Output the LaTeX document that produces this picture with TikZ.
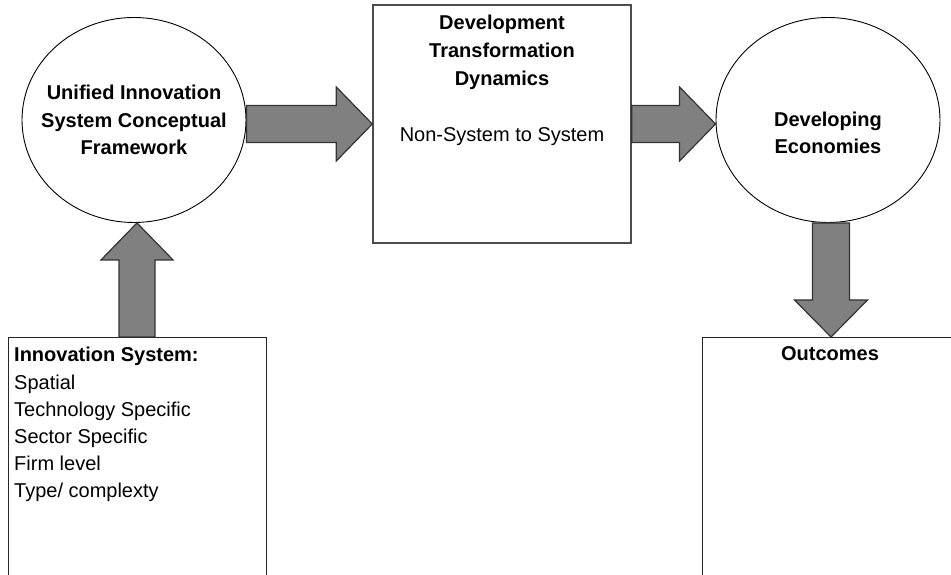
\documentclass[tikz,border=0pt]{standalone}
\usepackage{fontspec}
\setmainfont{Liberation Sans}
\usetikzlibrary{shapes.geometric,calc}

% block arrows: #1 = tail point, #2 = tip point
\newcommand\fatright[2]{%
  \draw[fat] ($(#1)+(0,18.5)$) -- ($(#2)+(-36,18.5)$) -- ($(#2)+(-36,37)$) -- (#2)
    -- ($(#2)+(-36,-37)$) -- ($(#2)+(-36,-18.5)$) -- ($(#1)+(0,-18.5)$) -- cycle;}
\newcommand\fatup[2]{%
  \draw[fat] ($(#1)+(-18,0)$) -- ($(#2)+(-18,-37)$) -- ($(#2)+(-36,-37)$) -- (#2)
    -- ($(#2)+(36,-37)$) -- ($(#2)+(18,-37)$) -- ($(#1)+(18,0)$) -- cycle;}
\newcommand\fatdown[2]{%
  \draw[fat] ($(#1)+(-18.5,0)$) -- ($(#2)+(-18.5,37)$) -- ($(#2)+(-36.5,37)$) -- (#2)
    -- ($(#2)+(36.5,37)$) -- ($(#2)+(18.5,37)$) -- ($(#1)+(18.5,0)$) -- cycle;}

\tikzset{
  oval/.style={ellipse, draw=black, line width=0.9pt, minimum width=224pt,
    minimum height=205pt, inner sep=0pt},
  panel/.style={rectangle, draw=black!85, line width=1pt, inner sep=0pt},
  fat/.style={fill=black!50, draw=black!80, line width=1.2pt, line join=miter},
  txt/.style={inner sep=0pt, font=\fontsize{20}{27.5}\selectfont},
  bold/.style={txt, font=\fontsize{20}{27.5}\selectfont\bfseries},
}

\begin{document}
\begin{tikzpicture}[x=1pt, y=1pt]
  \useasboundingbox (0,0) rectangle (951,575);
  \clip (0,0) rectangle (951,575);

  % main shapes
  \node[oval] (uis) at (134,455) {};
  \node[panel, draw=black!70, line width=1.4pt, minimum width=258pt, minimum height=238pt] (dtd) at (502,451) {};
  \node[oval] (dev) at (828,455) {};
  \node[panel, minimum width=258pt, minimum height=280pt, anchor=north] (isys) at (137,238) {};
  \node[panel, minimum width=258pt, minimum height=280pt, anchor=north] (out) at (831,238) {};

  % labels (base anchor sits on the last line)
  \node[bold, align=center, anchor=base] (uistxt) at (134,420)
    {Unified Innovation\\System Conceptual\\Framework};
  \node[bold, align=center, anchor=base, font=\fontsize{20}{28}\selectfont\bfseries] (dtdtxt) at (502,489)
    {Development\\Transformation\\Dynamics};
  \node[txt, anchor=base] (dtdsub) at (502,433) {Non-System to System};
  \node[bold, align=center, anchor=base] (devtxt) at (828,421) {Developing\\Economies};
  \node[txt, align=left, anchor=base west, font=\fontsize{20}{27.2}\selectfont] (isystxt) at (14,77)
    {\textbf{Innovation System:}\\Spatial\\Technology Specific\\Sector Specific\\Firm level\\Type/ complexty};
  \node[bold, anchor=base] (outtxt) at (830,214) {Outcomes};

  % connectors
  \fatright{uis.east |- dtd.center}{dtd.west}
  \fatright{dtd.east}{dev.west |- dtd.center}
  \fatup{isys.north}{isys.north |- uis.south}
  \fatdown{out.north |- dev.south}{out.north}
\end{tikzpicture}
\end{document}
